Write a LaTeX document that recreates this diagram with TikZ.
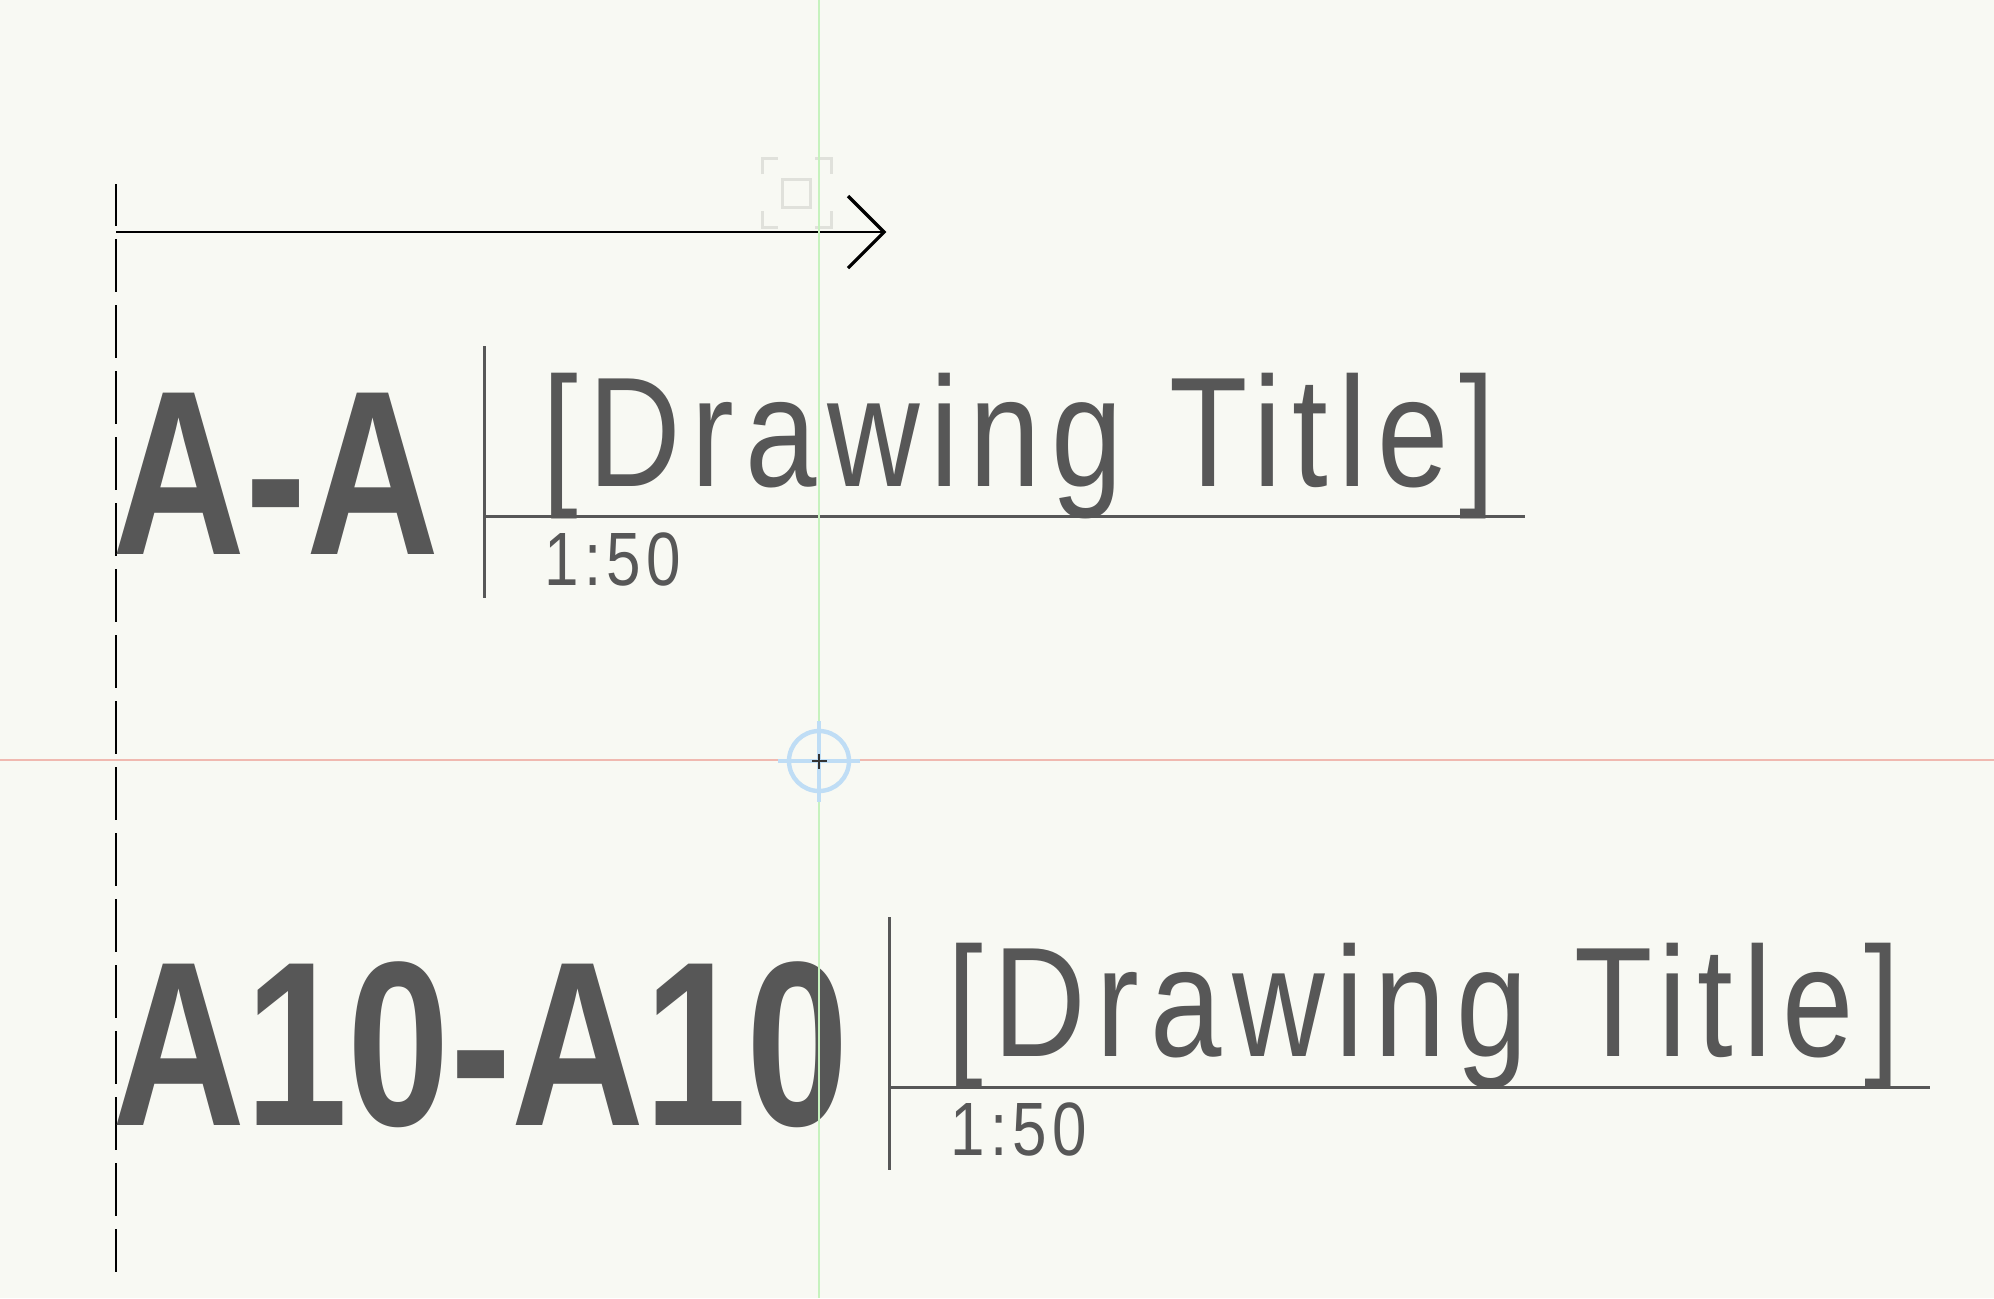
\documentclass[tikz,border=0pt]{standalone}
\usepackage{fontspec}
\setmainfont{Liberation Sans}
\newfontfamily\markfont[FakeStretch=0.785]{Liberation Sans}
\newfontfamily\titlefont[FakeStretch=0.82,LetterSpace=6.8]{Liberation Sans}
\newfontfamily\ratiofont[FakeStretch=0.82,LetterSpace=7]{Liberation Sans}
\definecolor{paper}{HTML}{F8F9F3}
\definecolor{ink}{HTML}{575757}
\definecolor{guidegreen}{HTML}{C6F2BE}
\definecolor{guidered}{HTML}{F0B9B0}
\definecolor{snapblue}{HTML}{BFDDF5}
\definecolor{ghost}{HTML}{E0E1DB}
\begin{document}
\begin{tikzpicture}[x=0.5pt,y=-0.5pt,line cap=butt,
    bigmark/.style={anchor=base west,inner sep=0,text=ink,font=\markfont\bfseries\fontsize{117.3pt}{125pt}\selectfont},
    titletext/.style={anchor=base west,inner sep=0,text=ink,font=\titlefont\fontsize{78.2pt}{84pt}\selectfont},
    ratiotext/.style={anchor=base west,inner sep=0,text=ink,font=\ratiofont\fontsize{37.8pt}{40pt}\selectfont},
    titlerule/.style={draw=ink,line width=1.5pt},
    cutline/.style={draw=black,line width=0.75pt}]
  \useasboundingbox[fill=paper] (0,0) rectangle (1994,1298);
  % section cut line
  \draw[cutline,dash pattern=on 26.5pt off 6.5pt,dash phase=5.5pt] (116,184)--(116,1272);
  \coordinate (cutstart) at (116,232);
  \coordinate (cuttip) at (884,232);
  \draw[cutline] (cutstart)--(cuttip);
  \draw[black,line width=1.6pt,line join=miter] (848,196)--(cuttip)--(848,268);
  % ghost marker
  \begin{scope}[draw=ghost,line width=1.5pt]
    \draw (782,179) rectangle (810,207);
    \draw (762,174)--(762,158)--(778,158) (815,158)--(831,158)--(831,174);
    \draw (762,211)--(762,227)--(778,227) (815,227)--(831,227)--(831,211);
  \end{scope}
  % labels
  \node[bigmark] (markA) at (112,554) {A-A};
  \node[bigmark] (markB) at (112,1125) {A10-A10};
  \draw[titlerule] (484,346)--(484,598);
  \draw[titlerule] (484,516)--(1525,516);
  \node[titletext] (titleA) at (542,486) {[Drawing Title]};
  \node[ratiotext] (ratioA) at (544,585) {1:50};
  \draw[titlerule] (889,917)--(889,1170);
  \draw[titlerule] (889,1087)--(1930,1087);
  \node[titletext] (titleB) at (947,1056) {[Drawing Title]};
  \node[ratiotext] (ratioB) at (950,1155) {1:50};
  % guides
  \draw[guidegreen,line width=1pt] (819,0)--(819,1298);
  \draw[guidered,line width=1.3pt] (0,760)--(1994,760);
  \draw[snapblue,line width=2.2pt] (819,761) circle (30);
  \draw[snapblue,line width=2.2pt] (778,761)--(860,761) (819,721)--(819,802);
  \draw[black!80,line width=0.8pt] (812,761)--(827,761) (819,754)--(819,769);
\end{tikzpicture}
\end{document}
